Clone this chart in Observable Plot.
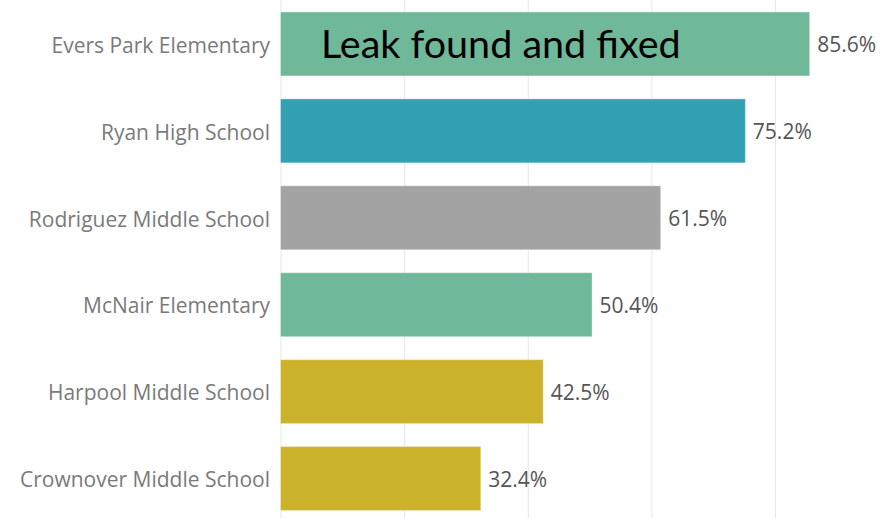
<!DOCTYPE html>
<html>
<head>
<meta charset="utf-8">
<script src="https://cdn.jsdelivr.net/npm/d3@7"></script>
<script src="https://cdn.jsdelivr.net/npm/@observablehq/plot@0.6"></script>
<style>
  html, body { margin: 0; padding: 0; background: #fff; }
  #chart svg { display: block; }
</style>
</head>
<body>
<div id="chart"></div>
<script>
const schools = [
  "Evers Park Elementary",
  "Ryan High School",
  "Rodriguez Middle School",
  "McNair Elementary",
  "Harpool Middle School",
  "Crownover Middle School"
];
const percents = [85.6, 75.2, 61.5, 50.4, 42.5, 32.4];
const groups = ["Elementary", "High", "Other", "Elementary", "Middle", "Middle"];
const groupNames = ["Elementary", "High", "Other", "Middle"];
const groupColors = ["#6fb899", "#31a1b3", "#a3a3a3", "#ccb22b"];
const xTicks = [0, 20, 40, 60, 80];
const annotation = "Leak found and fixed";

const data = schools.map((s, i) => ({school: s, pct: percents[i], group: groups[i]}));

const chart = Plot.plot({
  width: 892,
  height: 518,
  marginLeft: 280.5,
  marginRight: 2,
  marginTop: 0,
  marginBottom: 0,
  style: {fontFamily: "'Open Sans', sans-serif", background: "#fff"},
  x: {domain: [0, 98.6], ticks: xTicks, axis: null},
  y: {domain: schools, range: [4.5, 518], round: false, paddingInner: 0.264, paddingOuter: 0.086, axis: null},
  color: {domain: groupNames, range: groupColors},
  marks: [
    Plot.gridX(xTicks, {stroke: "#e6e6e6", strokeOpacity: 1, strokeWidth: 1}),
    Plot.barX(data, {x: "pct", y: "school", fill: "group", stroke: "#ffffff", strokeOpacity: 0.35, strokeWidth: 1}),
    Plot.axisY({tickSize: 0, tickPadding: 11, fontSize: 21, color: "#7a7a7a", textAnchor: "end", label: null, dy: 1.5}),
    Plot.text(data, {x: "pct", y: "school", text: d => d.pct.toFixed(1) + "%", textAnchor: "start", dx: 7, dy: 1, fontSize: 21, fill: "#555555"}),
    Plot.text([annotation], {x: 0, y: () => schools[0], text: d => d, textAnchor: "start", dx: 40, dy: 1, fontSize: 39.5, fill: "#000000", fontFamily: "Lato, sans-serif"})
  ]
});
document.getElementById("chart").appendChild(chart);
</script>
</body>
</html>
